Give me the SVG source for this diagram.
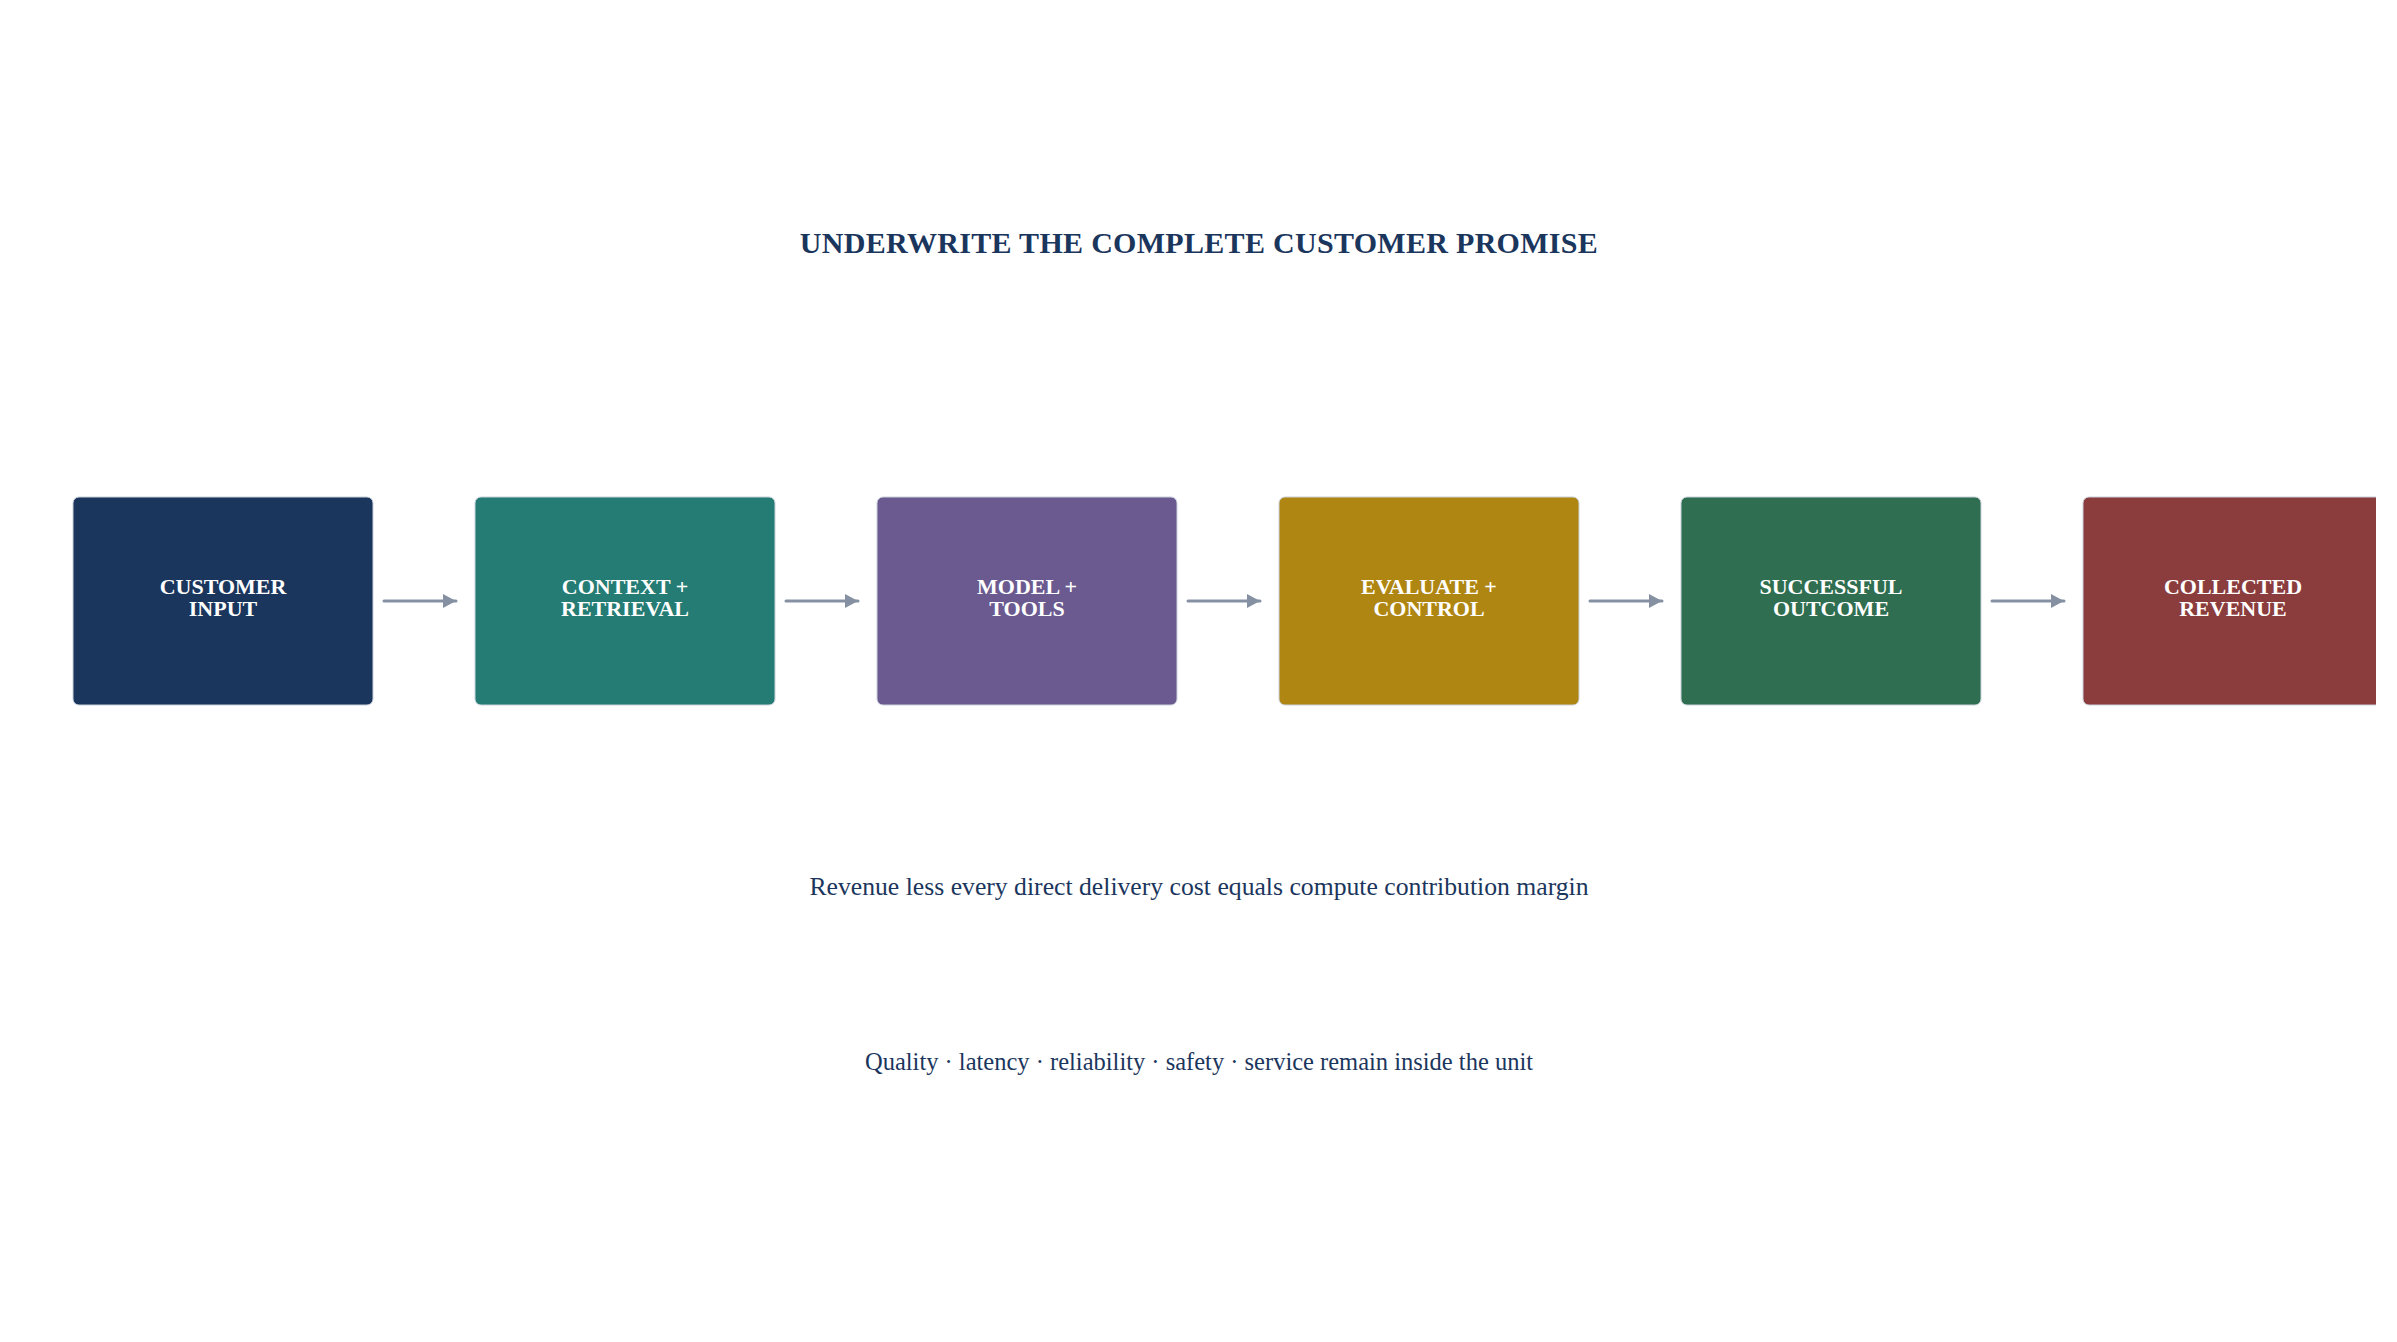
<svg xmlns="http://www.w3.org/2000/svg" width="2397" height="1342" viewBox="0 0 2397 1342">
<style>
.box{stroke:#c9d1db;stroke-width:1}
.lbl{font-family:"Liberation Serif","Times New Roman",serif;font-weight:bold;font-size:22px;fill:#ffffff;text-anchor:middle}
.title{font-family:"Liberation Serif","Times New Roman",serif;font-weight:bold;font-size:30px;letter-spacing:0.3px;fill:#1b365d;text-anchor:middle}
.sub{font-family:"Liberation Serif","Times New Roman",serif;fill:#1b365d;text-anchor:middle}
.conn{stroke:#8591a3;stroke-width:3;stroke-linecap:round;fill:none}
</style>
<defs>
<marker id="ah" viewBox="0 0 13 14" refX="13" refY="7" markerWidth="13" markerHeight="14" markerUnits="userSpaceOnUse" orient="auto">
<path d="M0,0 L13,7 L0,14 Z" fill="#8591a3"/>
</marker>
<clipPath id="clipR"><rect x="0" y="0" width="2376" height="1342"/></clipPath>
</defs>
<rect x="0" y="0" width="2397" height="1342" fill="#ffffff"/>
<text class="title" x="1199" y="253">UNDERWRITE THE COMPLETE CUSTOMER PROMISE</text>
<g id="connectors">
<line class="conn" x1="384" y1="601" x2="456" y2="601" marker-end="url(#ah)"/>
<line class="conn" x1="786" y1="601" x2="858" y2="601" marker-end="url(#ah)"/>
<line class="conn" x1="1188" y1="601" x2="1260" y2="601" marker-end="url(#ah)"/>
<line class="conn" x1="1590" y1="601" x2="1662" y2="601" marker-end="url(#ah)"/>
<line class="conn" x1="1992" y1="601" x2="2064" y2="601" marker-end="url(#ah)"/>
</g>
<g id="node-customer-input">
<rect class="box" x="73" y="497" width="300" height="208" rx="6" fill="#1b365d"/>
<text class="lbl" x="223" y="594">CUSTOMER</text>
<text class="lbl" x="223" y="616">INPUT</text>
</g>
<g id="node-context-retrieval">
<rect class="box" x="475" y="497" width="300" height="208" rx="6" fill="#247c75"/>
<text class="lbl" x="625" y="594">CONTEXT +</text>
<text class="lbl" x="625" y="616">RETRIEVAL</text>
</g>
<g id="node-model-tools">
<rect class="box" x="877" y="497" width="300" height="208" rx="6" fill="#6a5a8f"/>
<text class="lbl" x="1027" y="594">MODEL +</text>
<text class="lbl" x="1027" y="616">TOOLS</text>
</g>
<g id="node-evaluate-control">
<rect class="box" x="1279" y="497" width="300" height="208" rx="6" fill="#b08612"/>
<text class="lbl" x="1429" y="594">EVALUATE +</text>
<text class="lbl" x="1429" y="616">CONTROL</text>
</g>
<g id="node-successful-outcome">
<rect class="box" x="1681" y="497" width="300" height="208" rx="6" fill="#2f6e50"/>
<text class="lbl" x="1831" y="594">SUCCESSFUL</text>
<text class="lbl" x="1831" y="616">OUTCOME</text>
</g>
<g id="node-collected-revenue">
<rect class="box" x="2083" y="497" width="300" height="208" rx="6" fill="#8b3d3d" clip-path="url(#clipR)"/>
<text class="lbl" x="2233" y="594">COLLECTED</text>
<text class="lbl" x="2233" y="616">REVENUE</text>
</g>
<text class="sub" x="1199" y="895" font-size="25.7">Revenue less every direct delivery cost equals compute contribution margin</text>
<text class="sub" x="1199" y="1070" font-size="24.5">Quality · latency · reliability · safety · service remain inside the unit</text>
</svg>
